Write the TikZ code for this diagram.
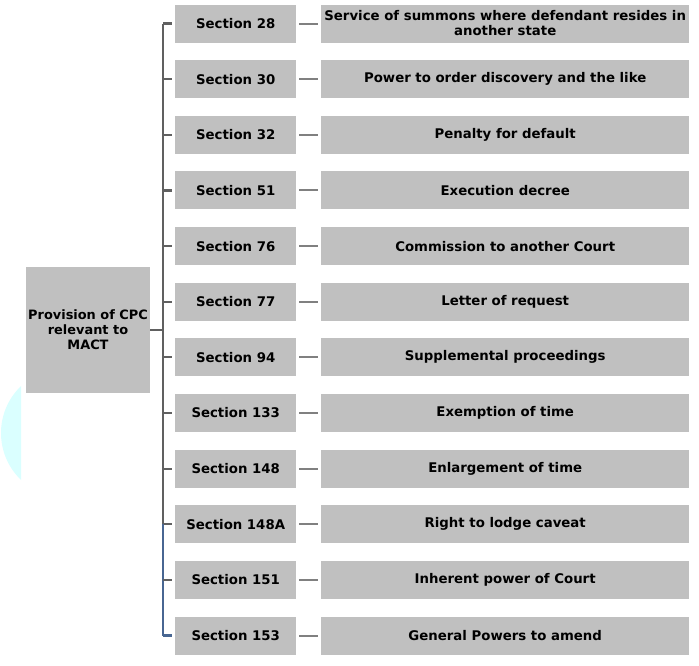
\documentclass[tikz,border=0pt]{standalone}
\usepackage{fontspec}
\setmainfont{DejaVu Sans}

\definecolor{boxgray}{RGB}{192,192,192}
\definecolor{trunkgray}{RGB}{96,96,96}
\definecolor{trunkblue}{RGB}{72,102,146}
\definecolor{linkgray}{RGB}{128,128,128}
\definecolor{haze}{RGB}{218,255,255}

\begin{document}
\begin{tikzpicture}[
  x=1pt, y=-1pt,
  every node/.style={inner sep=1pt, font=\bfseries\fontsize{13.3}{15}\selectfont},
  rootbox/.style={fill=boxgray, minimum width=124pt, minimum height=126pt, inner sep=0pt,
    align=center, font=\bfseries\fontsize{12.9}{15}\selectfont},
  secbox/.style={fill=boxgray, minimum width=121pt, minimum height=38pt, anchor=west},
  descbox/.style={fill=boxgray, minimum width=368pt, minimum height=38pt, anchor=west, align=center},
  edge/.style={draw=trunkgray, line width=2.2pt},
  blueedge/.style={draw=trunkblue, line width=2.2pt},
  link/.style={draw=linkgray, line width=2pt, shorten <=3pt, shorten >=3pt}]

  \useasboundingbox (0,0) rectangle (699,665);

  % --- faint cyan blob at the left margin ---
  \begin{scope}
    \clip (0,380) rectangle (21,490);
    \fill[haze] (66,433) circle[radius=65pt];
  \end{scope}

  % --- the root box ---
  \node[rootbox] (root) at (88,330) {Provision of CPC\\relevant to\\MACT};
  \coordinate (trunk) at (163,330);

  % --- one row per section: section box, link, description box ---
  \foreach \num/\desc [count=\i] in {
      28/{Service of summons where defendant resides in\\another state},
      30/{Power to order discovery and the like},
      32/{Penalty for default},
      51/{Execution decree},
      76/{Commission to another Court},
      77/{Letter of request},
      94/{Supplemental proceedings},
      133/{Exemption of time},
      148/{Enlargement of time},
      148A/{Right to lodge caveat},
      151/{Inherent power of Court},
      153/{General Powers to amend}} {
    \pgfmathsetmacro{\rowy}{23.5+(\i-1)*55.64}
    \node[secbox] (sec\i) at (175,\rowy) {Section \num};
    \node[descbox] (desc\i) at (321,\rowy) {\desc};
    \draw[link] (sec\i) -- (desc\i);
  }

  % --- the trunk: grey down to Section 148A, blue below ---
  \draw[edge] (root.east) -- (trunk);
  \draw[edge, shorten >=3pt] (sec1.west -| trunk) -- (sec1.west);
  \draw[edge, line join=miter] (sec1.west -| trunk) -- (sec10.west -| trunk);
  \foreach \i in {2,...,10}
    \draw[edge, shorten >=3pt] (sec\i.west -| trunk) -- (sec\i.west);
  \draw[blueedge] (sec10.west -| trunk) -- (sec12.west -| trunk);
  \draw[edge, shorten >=3pt] (sec11.west -| trunk) -- (sec11.west);
  \draw[blueedge, shorten >=3pt] (sec12.west -| trunk) -- (sec12.west);

\end{tikzpicture}
\end{document}
